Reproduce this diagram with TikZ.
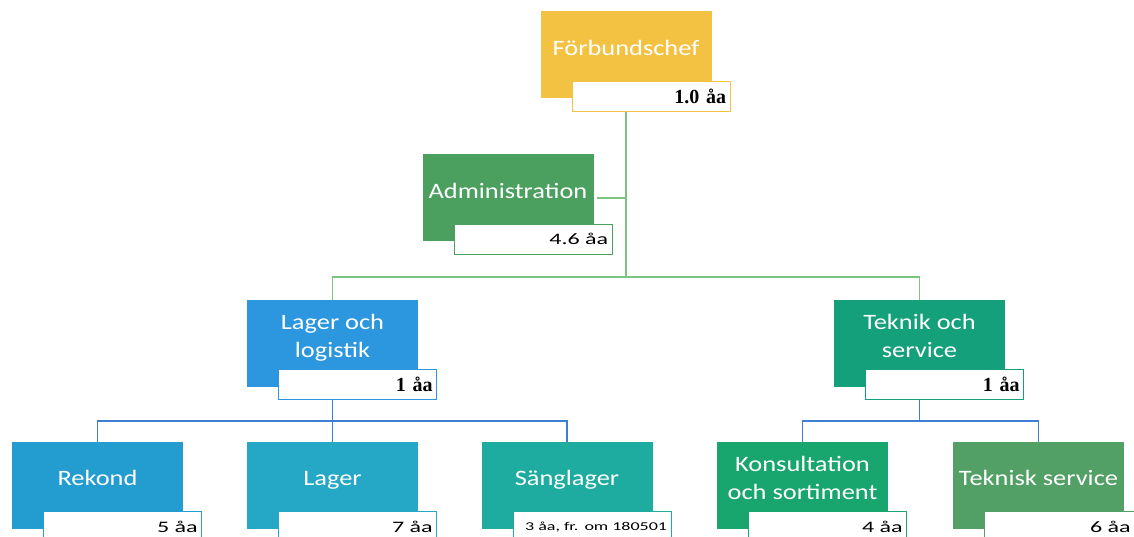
\documentclass[tikz,border=0pt]{standalone}
\usepackage{fontspec}
\setmainfont{Carlito}
\newfontfamily\boxfont{Carlito}[FakeStretch=1.2]
\newfontfamily\ftefont{Carlito}[FakeStretch=1.5]
\newfontfamily\fteserif{Liberation Serif}
\usepackage{tikz}
\usetikzlibrary{positioning}

\definecolor{chef}{HTML}{F4C242}
\definecolor{admin}{HTML}{4B9F5F}
\definecolor{logist}{HTML}{2C97DE}
\definecolor{teknik}{HTML}{13A07A}
\definecolor{rekond}{HTML}{239CCF}
\definecolor{lager}{HTML}{25A7C6}
\definecolor{sang}{HTML}{1FACA0}
\definecolor{konsult}{HTML}{18A56E}
\definecolor{tekserv}{HTML}{52A066}
\definecolor{grn}{HTML}{7CC47F}
\definecolor{blu}{HTML}{3D7FD3}

\begin{document}
\begin{tikzpicture}[
  x=1pt, y=-1pt,
  unit/.style={rectangle, fill=#1, text=white, align=center, inner sep=2pt,
    font=\boxfont\fontsize{22}{28}\selectfont, minimum width=171pt, minimum height=87pt,
    execute at end node={\rule[-15pt]{0pt}{1pt}}},
  fte/.style={rectangle, draw=#1, fill=white, line width=1.2pt, text width=150pt, align=right,
    inner xsep=4pt, inner ysep=0pt, minimum height=30pt, font=\ftefont\fontsize{16}{18}\selectfont},
  serif/.style={font=\fteserif\bfseries\fontsize{20}{22}\selectfont},
  gline/.style={draw=grn, line width=1.3pt},
  bline/.style={draw=blu, line width=1.3pt}
]
\useasboundingbox (0,0) rectangle (1134,537);

% ledning
\node (fb) [unit=chef] at (626,55) {Förbundschef};
\node (fbl) [fte=chef, serif, below left=-18pt and -19pt of fb.south east] {1.0 åa};

\node (adm) [unit=admin] at (508,198) {Administration};
\node (adml) [fte=admin, below left=-18pt and -19pt of adm.south east] {4.6 åa};

% avdelningar
\node (ll) [unit=logist] at (332.5,343.5) {Lager och\\logistik};
\node (lll) [fte=logist, serif, below left=-18pt and -19pt of ll.south east] {1 åa};

\node (ts) [unit=teknik] at (919.5,343.5) {Teknik och\\service};
\node (tsl) [fte=teknik, serif, below left=-18pt and -19pt of ts.south east] {1 åa};

% enheter
\node (rek) [unit=rekond] at (97.5,485.5) {Rekond};
\node (rekl) [fte=rekond, below left=-18pt and -19pt of rek.south east] {5 åa};

\node (lag) [unit=lager] at (332.5,485.5) {Lager};
\node (lagl) [fte=lager, below left=-18pt and -19pt of lag.south east] {7 åa};

\node (sang) [unit=sang] at (567,485.5) {Sänglager};
\node (sangl) [fte=sang, font=\ftefont\fontsize{12}{14}\selectfont, below left=-18pt and -19pt of sang.south east] {3 åa, fr. om 180501};

\node (kons) [unit=konsult] at (802.5,485.5) {Konsultation\\och sortiment};
\node (konsl) [fte=konsult, below left=-18pt and -19pt of kons.south east] {4 åa};

\node (tek) [unit=tekserv] at (1038.5,485.5) {Teknisk service};
\node (tekl) [fte=tekserv, text width=134pt, inner xsep=12pt, below left=-18pt and -19pt of tek.south east] {6 åa};

% linjer
\coordinate (gbus) at (fb.south |- 0,277);
\coordinate (lbus) at (ll.south |- 0,421);
\coordinate (tbus) at (ts.south |- 0,421);

\draw[gline] (fb.south |- fbl.south) -- (gbus);
\draw[gline] ([xshift=3pt]adm.east) -- (adm.east -| gbus);
\draw[gline] (ll.north) |- (gbus) -| (ts.north);

\draw[bline] (ll.south |- lll.south) -- (lbus) -- (lag.north);
\draw[bline] (rek.north) |- (lbus) -| (sang.north);

\draw[bline] (ts.south |- tsl.south) -- (tbus);
\draw[bline] (kons.north) |- (tbus) -| (tek.north);

\end{tikzpicture}
\end{document}
